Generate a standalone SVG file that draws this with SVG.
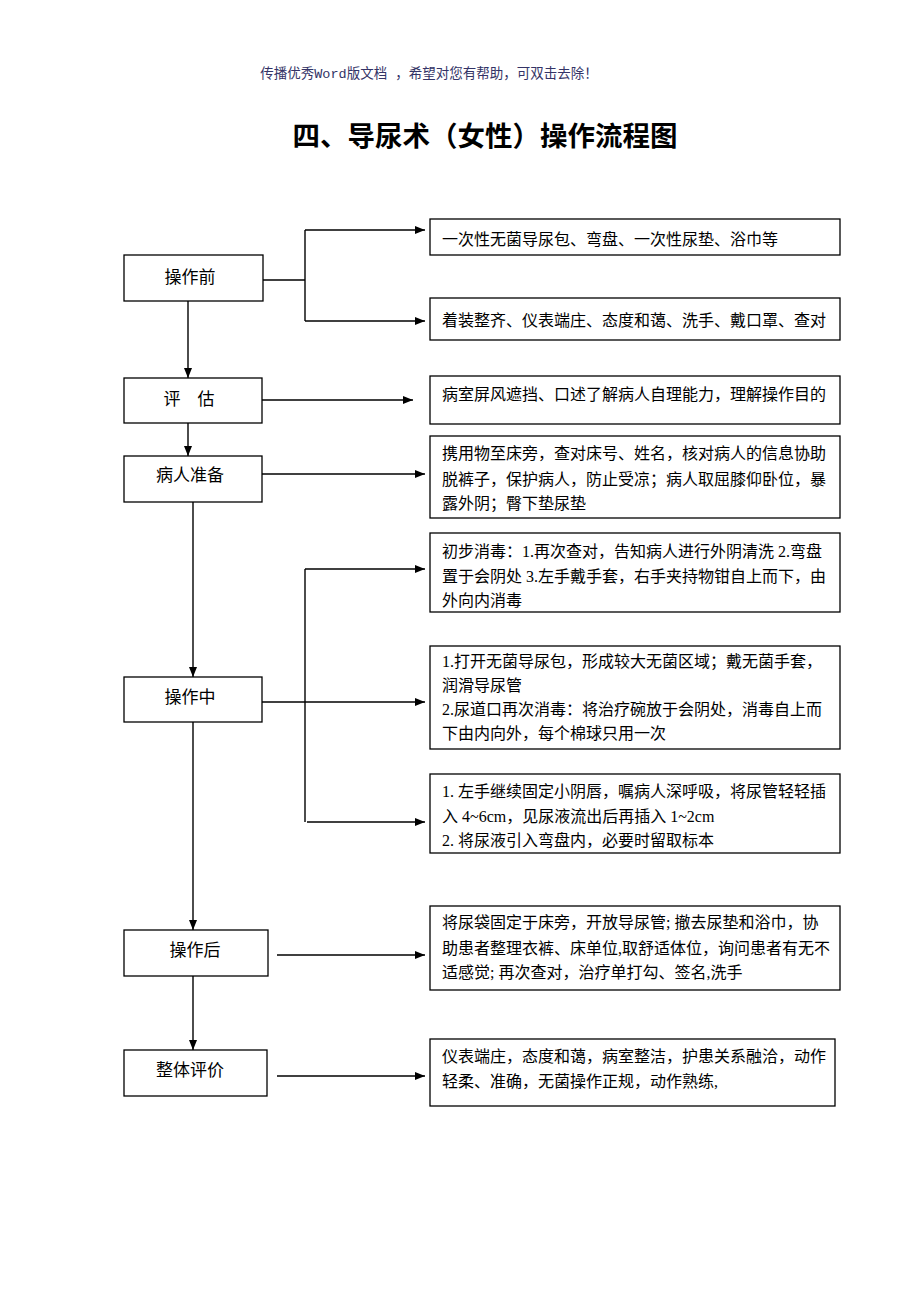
<svg xmlns="http://www.w3.org/2000/svg" width="920" height="1302" viewBox="0 0 920 1302">
<style>
.box{fill:#fff;stroke:#000;stroke-width:1.3}
.lbl{font-family:"Liberation Serif","Noto Sans CJK SC",serif;font-size:17px;fill:#000}
.txt{font-family:"Liberation Serif","Noto Sans CJK SC",serif;font-size:16px;fill:#000}
.ln{fill:none;stroke:#000;stroke-width:1.4}
</style>
<defs>
<marker id="ah" markerWidth="10" markerHeight="8" refX="10" refY="4" orient="auto" markerUnits="userSpaceOnUse">
<path d="M0,0 L10,4 L0,8 Z" fill="#000"/>
</marker>
</defs>
<rect width="920" height="1302" fill="#fff"/>
<text x="429" y="78" text-anchor="middle" font-family="Liberation Mono,'Noto Sans CJK SC',monospace" font-size="13.5" fill="#333366">传播优秀Word版文档 ，希望对您有帮助，可双击去除！</text>
<text x="485" y="146" text-anchor="middle" font-family="'Noto Sans CJK SC',sans-serif" font-size="27.5" font-weight="bold" fill="#000">四、导尿术（女性）操作流程图</text>

<g id="connectors">
<path class="ln" d="M263,280 H305"/>
<path class="ln" d="M305,230 V321"/>
<path class="ln" d="M305,230 H425" marker-end="url(#ah)"/>
<path class="ln" d="M305,321 H425" marker-end="url(#ah)"/>
<path class="ln" d="M188,301 V378" marker-end="url(#ah)"/>
<path class="ln" d="M262,400 H413" marker-end="url(#ah)"/>
<path class="ln" d="M188,423 V456" marker-end="url(#ah)"/>
<path class="ln" d="M262,474 H425" marker-end="url(#ah)"/>
<path class="ln" d="M193,502 V677" marker-end="url(#ah)"/>
<path class="ln" d="M262,702 H425" marker-end="url(#ah)"/>
<path class="ln" d="M305,569 V822"/>
<path class="ln" d="M305,569 H425" marker-end="url(#ah)"/>
<path class="ln" d="M307,822 H425" marker-end="url(#ah)"/>
<path class="ln" d="M193,722 V930" marker-end="url(#ah)"/>
<path class="ln" d="M277,955 H425" marker-end="url(#ah)"/>
<path class="ln" d="M193,976 V1050" marker-end="url(#ah)"/>
<path class="ln" d="M277,1076 H425" marker-end="url(#ah)"/>
</g>

<g id="n-before"><rect class="box" x="124" y="255" width="139" height="46"/><text class="lbl" x="190" y="283" text-anchor="middle">操作前</text></g>
<g id="n-assess"><rect class="box" x="124" y="378" width="138" height="45"/><text class="lbl" x="189" y="405" text-anchor="middle">评　估</text></g>
<g id="n-prep"><rect class="box" x="124" y="456" width="138" height="46"/><text class="lbl" x="190" y="481" text-anchor="middle">病人准备</text></g>
<g id="n-during"><rect class="box" x="124" y="677" width="138" height="45"/><text class="lbl" x="190" y="703" text-anchor="middle">操作中</text></g>
<g id="n-after"><rect class="box" x="124" y="930" width="144" height="46"/><text class="lbl" x="195" y="956" text-anchor="middle">操作后</text></g>
<g id="n-eval"><rect class="box" x="124" y="1050" width="143" height="46"/><text class="lbl" x="190" y="1076" text-anchor="middle">整体评价</text></g>

<g id="b1"><rect class="box" x="430" y="219" width="410" height="36"/><text class="txt" x="442" y="245">一次性无菌导尿包、弯盘、一次性尿垫、浴巾等</text></g>
<g id="b2"><rect class="box" x="430" y="298" width="410" height="42"/><text class="txt" x="442" y="326">着装整齐、仪表端庄、态度和蔼、洗手、戴口罩、查对</text></g>
<g id="b3"><rect class="box" x="430" y="376" width="410" height="48"/><text class="txt" x="442" y="400">病室屏风遮挡、口述了解病人自理能力，理解操作目的</text></g>
<g id="b4"><rect class="box" x="430" y="436" width="410" height="82"/>
<text class="txt" x="442" y="459">携用物至床旁，查对床号、姓名，核对病人的信息协助</text>
<text class="txt" x="442" y="485">脱裤子，保护病人，防止受凉；病人取屈膝仰卧位，暴</text>
<text class="txt" x="442" y="509">露外阴；臀下垫尿垫</text></g>
<g id="b5"><rect class="box" x="430" y="533" width="410" height="79"/>
<text class="txt" x="442" y="557">初步消毒：1.再次查对，告知病人进行外阴清洗 2.弯盘</text>
<text class="txt" x="442" y="582">置于会阴处 3.左手戴手套，右手夹持物钳自上而下，由</text>
<text class="txt" x="442" y="606">外向内消毒</text></g>
<g id="b6"><rect class="box" x="430" y="646" width="410" height="103"/>
<text class="txt" x="442" y="667">1.打开无菌导尿包，形成较大无菌区域；戴无菌手套，</text>
<text class="txt" x="442" y="691">润滑导尿管</text>
<text class="txt" x="442" y="715">2.尿道口再次消毒：将治疗碗放于会阴处，消毒自上而</text>
<text class="txt" x="442" y="739">下由内向外，每个棉球只用一次</text></g>
<g id="b7"><rect class="box" x="430" y="774" width="410" height="79"/>
<text class="txt" x="442" y="797">1. 左手继续固定小阴唇，嘱病人深呼吸，将尿管轻轻插</text>
<text class="txt" x="442" y="822">入 4~6cm，见尿液流出后再插入 1~2cm</text>
<text class="txt" x="442" y="846">2. 将尿液引入弯盘内，必要时留取标本</text></g>
<g id="b8"><rect class="box" x="430" y="906" width="410" height="84"/>
<text class="txt" x="442" y="928">将尿袋固定于床旁，开放导尿管; 撤去尿垫和浴巾，协</text>
<text class="txt" x="442" y="954">助患者整理衣裤、床单位,取舒适体位，询问患者有无不</text>
<text class="txt" x="442" y="978">适感觉; 再次查对，治疗单打勾、签名,洗手</text></g>
<g id="b9"><rect class="box" x="430" y="1039" width="405" height="67"/>
<text class="txt" x="442" y="1062">仪表端庄，态度和蔼，病室整洁，护患关系融洽，动作</text>
<text class="txt" x="442" y="1087">轻柔、准确，无菌操作正规，动作熟练,</text></g>
</svg>
